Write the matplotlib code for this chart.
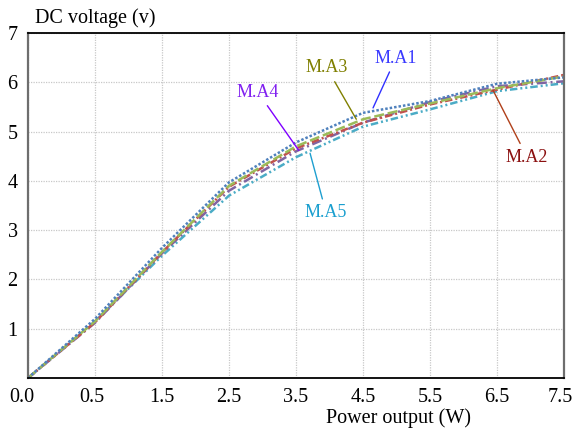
import matplotlib
matplotlib.use("Agg")
import matplotlib.pyplot as plt
import matplotlib.transforms as mtransforms

plt.rcParams['font.family'] = ['Liberation Serif', 'DejaVu Serif']

x_labels = ["0.0", "0.5", "1.5", "2.5", "3.5", "4.5", "5.5", "6.5", "7.5"]
x_pos = list(range(len(x_labels)))

ma1 = [0, 1.20, 2.64, 3.97, 4.78, 5.38, 5.62, 5.97, 6.10]
ma2 = [0, 1.13, 2.55, 3.88, 4.66, 5.18, 5.55, 5.85, 6.15]
ma3 = [0, 1.15, 2.56, 3.90, 4.70, 5.25, 5.57, 5.88, 6.12]
ma4 = [0, 1.12, 2.53, 3.80, 4.60, 5.18, 5.60, 5.92, 6.02]
ma5 = [0, 1.15, 2.48, 3.70, 4.48, 5.10, 5.45, 5.82, 5.98]

y_ticks = [1, 2, 3, 4, 5, 6, 7]

fig = plt.figure(figsize=(5.74, 4.28), dpi=100)
ax = fig.add_axes([28/574, 1-378/428, (564-28)/574, (378-33)/428])

series = [
    (ma5, "#4BACC6", (0, (3, 1.2, 0.8, 1.2, 0.8, 1.2))),
    (ma4, "#8064A2", (0, (4, 1.5, 0.8, 1.5))),
    (ma2, "#C0504D", (0, (3, 1.2, 0.8, 1.2))),
    (ma3, "#9BBB59", (0, (4, 1.5))),
    (ma1, "#4F81BD", (0, (1, 0.8))),
]
for ys, c, ls in series:
    ax.plot(x_pos, ys, color=c, linestyle=ls, linewidth=1.8)

ax.set_xlim(0, len(x_labels) - 1)
ax.set_ylim(0, 7)
ax.set_xticks(x_pos)
ax.set_xticklabels(x_labels)
ax.set_yticks(y_ticks)
ax.tick_params(axis='both', length=0, labelsize=14.5, colors='black')
ax.tick_params(axis='x', pad=7)
ax.tick_params(axis='y', pad=7.5)
ax.grid(True, color='#C8C8C8', linestyle=(0, (1, 1)), linewidth=0.9)
for s in ['top', 'bottom']:
    ax.spines[s].set_color('black')
    ax.spines[s].set_linewidth(1.3)
for s in ['left', 'right']:
    ax.spines[s].set_color('#6E6E6E')
    ax.spines[s].set_linewidth(1.6)

# small horizontal nudges of the first and last x tick labels
tls = ax.get_xticklabels()
for idx, dx in [(0, -6), (1, -3), (len(tls) - 1, -4)]:
    off = mtransforms.ScaledTranslation(dx / 100, 0, fig.dpi_scale_trans)
    tls[idx].set_transform(tls[idx].get_transform() + off)

fig.text(35/574, 1-23/428, "DC voltage (v)", fontsize=14.5, ha='left', va='baseline')
fig.text(398/574, 1-423/428, "Power output (W)", fontsize=14.5, ha='center', va='baseline')

def lab(text, txy, pxy, tc, lc):
    ax.annotate(text, xy=pxy, xytext=txy, ha='center', va='center',
                fontsize=13, color=tc,
                arrowprops=dict(arrowstyle='-', color=lc, lw=1.0,
                                shrinkA=2, shrinkB=0))

lab("M.A1", (5.49, 6.49), (5.15, 5.48), "#3A3AFF", "#3030FF")
lab("M.A3", (4.46, 6.29), (4.90, 5.25), "#7F7F00", "#808000")
lab("M.A4", (3.43, 5.80), (4.04, 4.62), "#8020F0", "#7F00FF")
lab("M.A5", (4.45, 3.35), (4.21, 4.56), "#1A9FCF", "#1E9FD0")
lab("M.A2", (7.45, 4.48), (6.94, 5.84), "#8B1010", "#B0401A")

fig.savefig("out.png", dpi=100)
